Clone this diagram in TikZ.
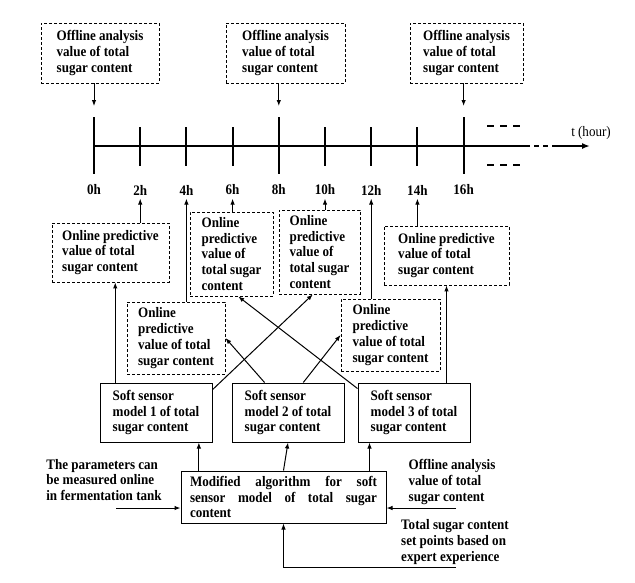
\documentclass[tikz,border=0pt]{standalone}
\usepackage{fontspec}
\setmainfont{Liberation Serif}[FakeStretch=0.9]
\usetikzlibrary{arrows.meta}
\hyphenpenalty=10000
\exhyphenpenalty=10000
\tikzset{
  every node/.style={font=\fontsize{14.5}{15.8}\selectfont\bfseries},
  txt/.style={align=left,inner sep=0pt},
  dashbox/.style={draw,dash pattern=on 3pt off 2pt,line width=0.9pt,align=left,inner sep=0pt},
  softbox/.style={draw,line width=1pt,align=left,inner sep=0pt,minimum width=112pt,minimum height=59pt},
  arr/.style={-{Latex[length=6pt,width=4.5pt]},line width=1pt},
  tick/.style={line width=2pt},
  axis/.style={line width=1.8pt},
  dashmark/.style={line width=1.6pt,dash pattern=on 7pt off 6pt},
}
\begin{document}
\begin{tikzpicture}[x=1pt,y=-1pt]
  \useasboundingbox (0,0) rectangle (635,582);
  % time axis
  \foreach \i in {0,2,...,16} {
    \coordinate (t\i) at ({94+23.1*\i},146);
    \node (h\i) at ({94+23.1*\i},190) {\i h};
  }
  \coordinate (tsolid) at (525,146);
  \coordinate (tdash) at (557,146);
  \coordinate (tend) at (590,146);
  \draw[axis] (t0) -- (tsolid);
  \draw[axis,dash pattern=on 5pt off 4pt] (tsolid) -- (tdash);
  \draw[axis,-{Latex[length=8pt,width=6pt]}] (tdash) -- (tend);
  \node[font=\fontsize{14.5}{15.8}\selectfont] (thour) at (591,133) {t (hour)};
  \foreach \i in {0,8,16}
    \draw[tick] ([yshift=29pt]t\i) -- ([yshift=-28pt]t\i);
  \foreach \i in {2,4,6,10,12,14}
    \draw[tick] ([yshift=19pt]t\i) -- ([yshift=-20pt]t\i);
  \draw[dashmark] (487,126) -- (520,126);
  \draw[dashmark] (487,165) -- (520,165);

  % offline analysis boxes
  \node[dashbox,minimum width=118pt,minimum height=60pt] (O1) at (100,53) {Offline analysis\\value of total\\sugar content};
  \node[dashbox,minimum width=119pt,minimum height=60pt] (O2) at (285.5,53) {Offline analysis\\value of total\\sugar content};
  \node[dashbox,minimum width=113pt,minimum height=60pt] (O3) at (466.5,53) {Offline analysis\\value of total\\sugar content};
  \draw[arr] (O1.south -| t0) -- ([yshift=40pt]t0);
  \draw[arr] (O2.south -| t8) -- ([yshift=40pt]t8);
  \draw[arr] (O3.south -| t16) -- ([yshift=40pt]t16);

  % online predictive boxes
  \node[dashbox,minimum width=117pt,minimum height=59pt] (A) at (110.5,252.5) {Online predictive\\value of total\\sugar content};
  \node[dashbox,minimum width=83pt,minimum height=84pt] (B) at (231.5,254) {Online\\predictive\\value of\\total sugar\\content};
  \node[dashbox,minimum width=81pt,minimum height=84pt] (C) at (319.5,252) {Online\\predictive\\value of\\total sugar\\content};
  \node[dashbox,minimum width=125pt,minimum height=59pt] (F) at (446.5,255.5) {Online predictive\\value of total\\sugar content};
  \node[dashbox,minimum width=98pt,minimum height=72pt] (D) at (176,338) {Online\\predictive\\value of total\\sugar content};
  \node[dashbox,minimum width=99pt,minimum height=72pt] (E) at (390.5,335) {Online\\predictive\\value of total\\sugar content};
  \draw[arr] (A.north -| h2) -- (h2.south);
  \draw[arr] (D.north -| h4) -- (h4.south);
  \draw[arr] (B.north -| h6) -- (h6.south);
  \draw[arr] (C.north -| h10) -- (h10.south);
  \draw[arr] (E.north -| h12) -- (h12.south);
  \draw[arr] (F.north -| h14) -- (h14.south);

  % soft sensor models
  \node[softbox] (S1) at (156,412.5) {Soft sensor\\model 1 of total\\sugar content};
  \node[softbox] (S2) at (288,412.5) {Soft sensor\\model 2 of total\\sugar content};
  \node[softbox] (S3) at (414,412.5) {Soft sensor\\model 3 of total\\sugar content};
  \draw[arr] (A.279 |- S1.north) -- (A.279);
  \draw[arr] (F.south |- S3.north) -- (F.south);
  \draw[arr] (S1.22) -- (C.261);
  \draw[arr] (S3.157) -- (B.279);
  \draw[arr] (S2.128) -- (D.east);
  \draw[arr] (S2.63) -- (E.west);

  % modified algorithm
  \node[draw,line width=1pt,align=justify,text width=187pt,inner xsep=9pt,inner ysep=0pt,minimum height=52pt] (M) at (283.5,497) {Modified algorithm for soft sensor model of total sugar content};
  \draw[arr] (S1.325 |- M.north) -- (S1.325);
  \draw[arr] (M.north) -- (S2.south);
  \draw[arr] (S3.214 |- M.north) -- (S3.214);

  % inputs
  \node[txt] (ptxt) at (104,480) {The parameters can\\be measured online\\in fermentation tank};
  \node[txt] (otxt) at (452,482) {Offline analysis\\value of total\\sugar content};
  \node[txt] (stxt) at (455,542) {Total sugar content\\set points based on\\expert experience};
  \coordinate (pin) at (116,508);
  \coordinate (oin) at (456,508);
  \coordinate (setp) at (456,567);
  \draw[arr] (pin) -- (pin -| M.west);
  \draw[arr] (oin) -- (oin -| M.east);
  \draw[arr] (setp) -- (setp -| M.south) -- (M.south);
\end{tikzpicture}
\end{document}
